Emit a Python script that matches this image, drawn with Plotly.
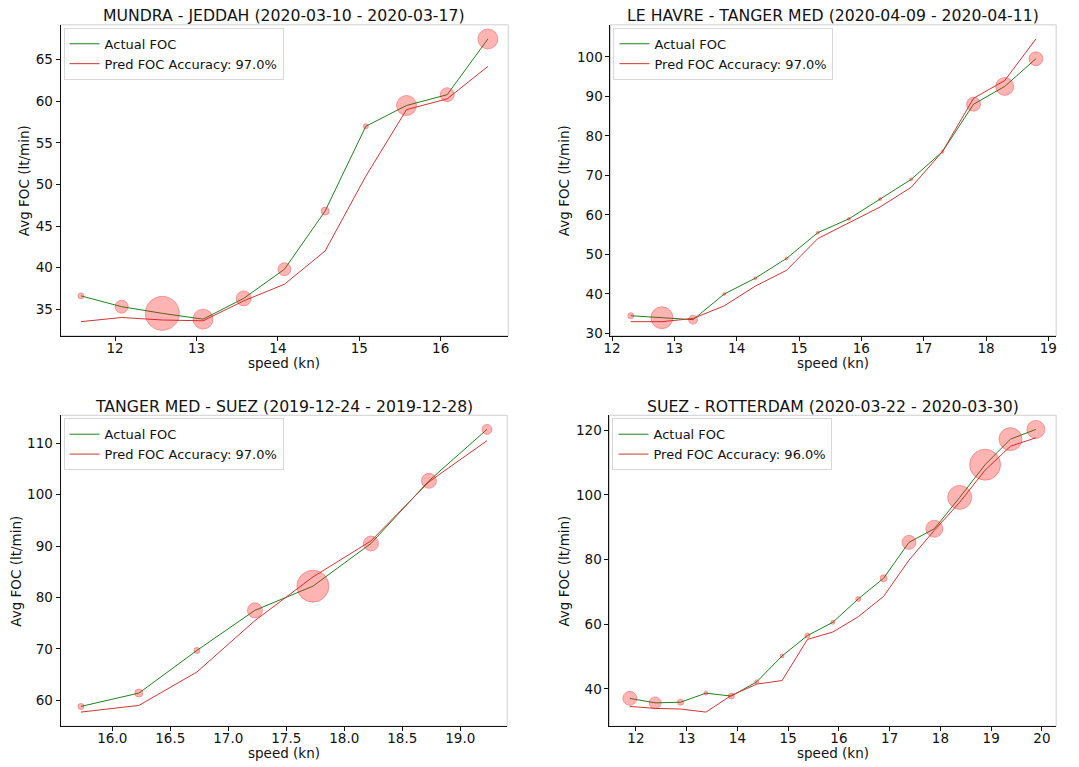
import plotly.graph_objects as go

# ---- route data: speed bins, measured FOC, predicted FOC, bubble weight per bin ----
mundra_title = "MUNDRA - JEDDAH (2020-03-10 - 2020-03-17)"
mundra_speed = [11.58, 12.08, 12.58, 13.08, 13.58, 14.08, 14.58, 15.08, 15.58, 16.08, 16.58]
mundra_actual = [36.6, 35.3, 34.5, 33.8, 36.3, 39.8, 46.8, 57.0, 59.5, 60.8, 67.5]
mundra_pred = [33.5, 34.0, 33.7, 33.6, 36.0, 38.0, 42.0, 51.0, 59.0, 60.3, 64.2]
mundra_weight = [6, 13, 34, 20, 15, 13, 8, 5, 20, 14, 20]
mundra_acc = "97.0%"

havre_title = "LE HAVRE - TANGER MED (2020-04-09 - 2020-04-11)"
havre_speed = [12.3, 12.8, 13.3, 13.8, 14.3, 14.8, 15.3, 15.8, 16.3, 16.8, 17.3, 17.8, 18.3, 18.8]
havre_actual = [34.5, 34.0, 33.5, 40.0, 44.0, 49.0, 55.5, 59.0, 64.0, 69.0, 76.0, 88.0, 92.5, 99.5]
havre_pred = [33.0, 33.0, 33.8, 37.0, 42.0, 46.0, 54.0, 58.0, 62.0, 67.0, 76.0, 89.5, 94.0, 104.5]
havre_weight = [6, 22, 9, 3, 3, 3, 3, 3, 3, 3, 3, 14, 18, 14]
havre_acc = "97.0%"

suez_title = "TANGER MED - SUEZ (2019-12-24 - 2019-12-28)"
suez_speed = [15.73, 16.23, 16.73, 17.23, 17.73, 18.23, 18.73, 19.23]
suez_actual = [58.8, 61.4, 69.7, 77.5, 82.2, 90.5, 102.7, 112.7]
suez_pred = [57.7, 59.0, 65.5, 75.5, 84.0, 91.0, 102.5, 110.5]
suez_weight = [6, 8, 6, 15, 32, 15, 15, 10]
suez_acc = "97.0%"

rott_title = "SUEZ - ROTTERDAM (2020-03-22 - 2020-03-30)"
rott_speed = [11.88, 12.38, 12.88, 13.38, 13.88, 14.38, 14.88, 15.38, 15.88,
              16.38, 16.88, 17.38, 17.88, 18.38, 18.88, 19.38, 19.88]
rott_actual = [37.1, 35.7, 35.9, 38.7, 37.8, 42.2, 50.2, 56.5, 60.6,
               67.8, 74.2, 85.3, 89.5, 99.2, 109.3, 117.2, 120.2]
rott_pred = [34.6, 34.0, 33.8, 32.85, 38.0, 41.5, 42.6, 55.3, 57.6,
             62.3, 68.6, 79.8, 89.0, 97.7, 107.6, 115.0, 117.6]
rott_weight = [14, 12, 6, 4, 6, 4, 4, 5, 4, 5, 7, 14, 17, 24, 31, 23, 18]
rott_acc = "96.0%"

W, H = 1079, 767
FONT = "DejaVu Sans"


def px_x(v):
    return v / W


def px_y(v):
    return 1 - v / H


# panel boxes in pixels: (left, right, top, bottom)
panels = [
    dict(title=mundra_title, speed=mundra_speed, actual=mundra_actual, pred=mundra_pred,
         weight=mundra_weight, acc=mundra_acc, box=(54, 505, 25, 338), xd=1, yd=5, xfmt="",
         ylab_x=25),
    dict(title=havre_title, speed=havre_speed, actual=havre_actual, pred=havre_pred,
         weight=havre_weight, acc=havre_acc, box=(608, 1057, 25, 338), xd=1, yd=10, xfmt="",
         ylab_x=569),
    dict(title=suez_title, speed=suez_speed, actual=suez_actual, pred=suez_pred,
         weight=suez_weight, acc=suez_acc, box=(54, 504, 418, 731), xd=0.5, yd=10, xfmt=".1f",
         ylab_x=17),
    dict(title=rott_title, speed=rott_speed, actual=rott_actual, pred=rott_pred,
         weight=rott_weight, acc=rott_acc, box=(607, 1057, 418, 731), xd=1, yd=20, xfmt="",
         ylab_x=569),
]

GREEN = "#1f801f"
RED = "#d03434"
BUBBLE = "rgba(255,20,20,0.45)"

fig = go.Figure()
annotations = []
shapes = []
layout = {}

for i, p in enumerate(panels, start=1):
    sfx = "" if i == 1 else str(i)
    xa, ya = "x" + sfx, "y" + sfx
    leg = "legend" + sfx
    l, r, t, b = p["box"]

    fig.add_trace(go.Scatter(
        x=p["speed"], y=p["actual"], mode="lines", name="Actual FOC",
        line=dict(color=GREEN, width=1), xaxis=xa, yaxis=ya, legend=leg))
    fig.add_trace(go.Scatter(
        x=p["speed"], y=p["pred"], mode="lines", name="Pred FOC Accuracy: " + p["acc"],
        line=dict(color=RED, width=1), xaxis=xa, yaxis=ya, legend=leg))
    fig.add_trace(go.Scatter(
        x=p["speed"], y=p["actual"], mode="markers", showlegend=False,
        marker=dict(size=p["weight"], sizemode="diameter", color=BUBBLE,
                    line=dict(color="rgba(225,0,0,0.45)", width=1)),
        xaxis=xa, yaxis=ya, hoverinfo="skip"))

    # matplotlib-like 5% padding around the data
    xs = p["speed"]
    ys = p["actual"] + p["pred"]
    xspan = max(xs) - min(xs)
    yspan = max(ys) - min(ys)
    xr = [min(xs) - 0.05 * xspan, max(xs) + 0.05 * xspan]
    yr = [min(ys) - 0.05 * yspan, max(ys) + 0.05 * yspan]

    axis_common = dict(
        showline=True, linecolor="#111111", linewidth=1, mirror=False,
        ticks="outside", ticklen=4, tickwidth=1, tickcolor="#111111",
        showgrid=False, zeroline=False,
        tickfont=dict(family=FONT, size=13.5, color="#111111"),
    )
    layout["xaxis" + sfx] = dict(
        axis_common, domain=[px_x(l), px_x(r)], anchor=ya, range=xr,
        dtick=p["xd"], tick0=0, tickformat=p["xfmt"], ticklabelstandoff=-4)
    layout["yaxis" + sfx] = dict(
        axis_common, domain=[px_y(b), px_y(t)], anchor=xa, range=yr,
        dtick=p["yd"], tick0=0)

    layout[leg] = dict(
        x=px_x(l + 3), y=px_y(t + 3), xanchor="left", yanchor="top",
        bgcolor="rgba(255,255,255,0.85)", bordercolor="#d8d8d8", borderwidth=1,
        font=dict(family=FONT, size=13, color="#111111"),
        itemwidth=30, tracegroupgap=0)

    # light grey top/right frame
    shapes.append(dict(type="rect", xref="paper", yref="paper",
                       x0=px_x(l), x1=px_x(r), y0=px_y(b), y1=px_y(t),
                       line=dict(color="#cfcfcf", width=1), layer="below"))

    annotations.append(dict(
        text=p["title"], xref="paper", yref="paper", x=px_x((l + r) / 2),
        y=px_y(t - 9), xanchor="center", yanchor="middle", showarrow=False,
        font=dict(family=FONT, size=15.7, color="#111111")))
    annotations.append(dict(
        text="speed (kn)", xref="paper", yref="paper", x=px_x((l + r) / 2),
        y=px_y(b + 27), xanchor="center", yanchor="middle", showarrow=False,
        font=dict(family=FONT, size=13.5, color="#111111")))
    annotations.append(dict(
        text="Avg FOC (lt/min)", xref="paper", yref="paper", x=px_x(p["ylab_x"] - 8),
        y=px_y((t + b) / 2), xanchor="center", yanchor="middle", textangle=-90,
        showarrow=False, font=dict(family=FONT, size=13.5, color="#111111")))

fig.update_layout(
    width=W, height=H, margin=dict(l=0, r=0, t=0, b=0),
    paper_bgcolor="white", plot_bgcolor="white",
    annotations=annotations, shapes=shapes, **layout,
)

fig.write_html("out.html")
